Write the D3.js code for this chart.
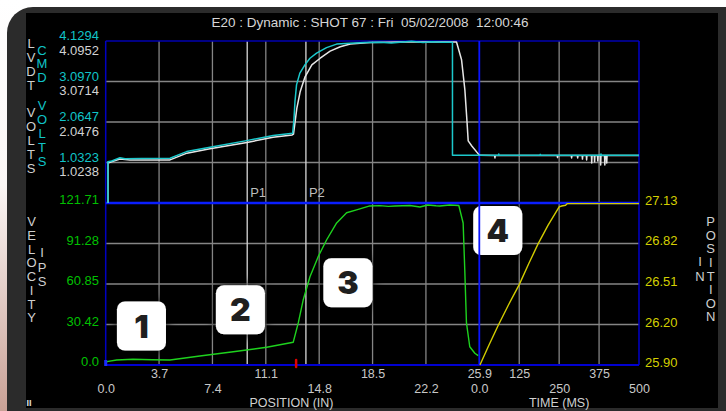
<!DOCTYPE html>
<html><head><meta charset="utf-8">
<script src="https://cdn.jsdelivr.net/npm/d3@7"></script>
<style>
body{margin:0;background:#fff;overflow:hidden}
svg{display:block;font-family:"Liberation Sans",Arial,sans-serif}
</style>
</head><body>
<svg id="c" width="726" height="411"></svg>
<script>
// ---------------- DATA ----------------
const titleText = "E20 : Dynamic : SHOT 67 : Fri  05/02/2008  12:00:46";
const posTicks  = [0.0, 3.7, 7.4, 11.1, 14.8, 18.5, 22.2, 25.9];
const timeTicks = [0, 125, 250, 375, 500];
const velTicks  = [0.0, 30.42, 60.85, 91.28, 121.71];
const posInTicks = [25.90, 26.20, 26.51, 26.82, 27.13];
const lvdtTicks = [1.0238, 2.0476, 3.0714, 4.0952];
const cmdTicks  = [1.0323, 2.0647, 3.0970, 4.1294];
const leftTitleA = "LVDT VOLTS";
const leftTitleB = "CMD VOLTS";
const velTitleA = "VELOCITY";
const velTitleB = "IPS";
const rightTitleA = "POSITION";
const rightTitleB = "IN";
const xTitlePos = "POSITION (IN)";
const xTitleTime = "TIME (MS)";

// CMD volts vs position (in)
const cmdPos = [[0.15,0],[0.15,1.05],[0.42,1.07],[0.99,1.155],[1.34,1.13],[2.5,1.135],[4.46,1.14],[5.61,1.31],[7.23,1.42],
  [9.77,1.59],[11.61,1.72],[12.96,1.78],[13.05,2.12],[13.12,2.58],[13.23,3.01],[13.46,3.31],[13.81,3.52],[14.16,3.69],
  [14.62,3.82],[15.31,3.96],[16.01,4.05],[16.93,4.07],[18.0,4.09],[19.0,4.10],[19.8,4.08],[20.4,4.10],[21.2,4.12],
  [22.0,4.09],[22.6,4.11],[23.3,4.10],[24.04,4.10],[24.04,1.216],[25.9,1.216]];
// CMD volts vs time (ms)
const cmdTime = [[0,1.216],[60,1.22],[61,1.25],[62,1.22],[190,1.216],[191,1.24],[192,1.216],[380,1.216],[381,1.25],[382,1.216],[500,1.216]];
// LVDT volts vs position (in)
const lvdtPos = [[0.16,0],[0.16,1.01],[0.44,1.05],[0.99,1.11],[1.68,1.09],[4.46,1.09],[5.63,1.26],[7.23,1.37],[9.79,1.53],
  [11.6,1.66],[12.93,1.72],[13.02,1.74],[13.25,2.39],[13.48,2.81],[13.82,3.19],[14.29,3.49],[14.87,3.66],[15.56,3.84],
  [16.26,3.95],[16.95,4.02],[18.34,4.06],[20.42,4.07],[22.5,4.07],[24.32,4.07],[24.67,3.62],[24.9,2.86],[25.04,2.10],
  [25.13,1.57],[25.38,1.44],[25.9,1.21]];
// LVDT volts vs time (ms)
const lvdtTime = [[0,1.21],[48,1.20],[49,1.14],[50,1.20],[244,1.20],[245,1.15],[246,1.20],[288,1.20],[289,1.14],[290,1.20],
  [307,1.20],[308,1.14],[309,1.20],[322,1.20],[323,1.11],[324,1.20],[335,1.20],[336,1.09],[337,1.20],[351,1.20],[352,1.01],
  [353,1.20],[360,1.20],[361,1.04],[362,1.20],[370,1.20],[371,1.06],[372,1.20],[379,1.20],[380,0.96],[381,1.20],
  [392,1.20],[393,0.96],[394,1.20],[398,1.20],[399,1.01],[400,1.20],[500,1.20]];
// Velocity (ips) vs position (in)
const velocityPos = [[0,0],[0.07,2.5],[0.76,3.8],[1.89,4.3],[3.2,3.9],[4.46,3.8],[6.53,6.8],[8.84,10.0],[11.16,13.3],
  [13.0,17.1],[13.35,31.6],[13.69,48.8],[14.16,66.3],[14.73,81.4],[15.31,93.9],[16.01,106.7],[16.70,114.4],[17.39,116.5],
  [18.31,119.5],[19.01,119.7],[19.6,119.2],[20.05,119.5],[21.09,119.8],[21.78,118.7],[22.33,120.2],[22.9,119.6],
  [23.16,119.5],[23.85,120.2],[24.48,119.8],[24.78,106.7],[24.90,69.1],[25.01,31.6],[25.24,13.7],[25.59,8.8],[25.82,7.0]];
// Ram position (in) vs time (ms)
const positionTime = [[2,25.90],[30,26.05],[59,26.20],[90,26.35],[125,26.51],[155,26.67],[184,26.82],[215,26.96],
  [250,27.10],[258,27.107],[270,27.113],[275,27.125],[500,27.125]];
// Markers
const pLines = [{name:"P1", pos:9.81},{name:"P2", pos:13.88}];
const redMarkerPos = 13.2;
const annotations = [{label:"1", pos:2.48, vel:29.3},{label:"2", pos:9.34, vel:41.5},
  {label:"3", pos:16.79, vel:61.8},{label:"4", pos:27.18, vel:101.0}];

// ---------------- SCALES ----------------
const svg = d3.select("#c");
const xPos  = d3.scaleLinear().domain([0,25.9]).range([105.7,479.3]);
const xTime = d3.scaleLinear().domain([0,500]).range([479.3,639]);
const yLvdt = d3.scaleLinear().domain([0,4.0952]).range([203,41]);
const yCmd  = d3.scaleLinear().domain([0,4.1294]).range([203,41]);
const yVel  = d3.scaleLinear().domain([0,121.71]).range([365,203]);
const yPosIn = d3.scaleLinear().domain([25.90,27.13]).range([365,203]);
const L = xPos.range()[0], S = xPos.range()[1], R = xTime.range()[1];
const TOP = yLvdt.range()[1], MID = yLvdt.range()[0], BOT = yVel.range()[0];

// ---------------- BACKGROUND / FRAME ----------------
const defs = svg.append("defs");
const bg = defs.append("linearGradient").attr("id","bg").attr("x1",0).attr("y1",0).attr("x2",0).attr("y2",1);
bg.append("stop").attr("offset","0%").attr("stop-color","#ffffff");
bg.append("stop").attr("offset","45%").attr("stop-color","#fbf7f6");
bg.append("stop").attr("offset","100%").attr("stop-color","#c9a196");
const sh = defs.append("filter").attr("id","sh").attr("x","-60%").attr("y","-60%").attr("width","220%").attr("height","220%");
sh.append("feDropShadow").attr("dx",0).attr("dy",0).attr("stdDeviation",6).attr("flood-color","#000").attr("flood-opacity",1);

svg.append("rect").attr("width",726).attr("height",411).attr("fill","url(#bg)");
svg.append("rect").attr("x",7).attr("y",7).attr("width",780).attr("height",430).attr("rx",26).attr("fill","#2b2b2b");
svg.append("rect").attr("x",26).attr("y",13).attr("width",692).attr("height",395).attr("fill","#000");

// ---------------- GRID ----------------
const grid = svg.append("g").attr("stroke","#858585").attr("stroke-width",1.3);
grid.selectAll(".vp").data(posTicks.slice(1,-1)).join("line")
  .attr("x1",d=>xPos(d)).attr("x2",d=>xPos(d)).attr("y1",TOP).attr("y2",BOT);
grid.selectAll(".vt").data(timeTicks.slice(1,-1)).join("line")
  .attr("x1",d=>xTime(d)).attr("x2",d=>xTime(d)).attr("y1",TOP).attr("y2",BOT);
grid.selectAll(".hl").data(lvdtTicks.slice(0,-1)).join("line")
  .attr("x1",L).attr("x2",R).attr("y1",d=>yLvdt(d)).attr("y2",d=>yLvdt(d));
grid.selectAll(".hv").data(velTicks.slice(1,-1)).join("line")
  .attr("x1",L).attr("x2",R).attr("y1",d=>yVel(d)).attr("y2",d=>yVel(d));

// P lines
const pl = svg.append("g");
pl.selectAll("line").data(pLines).join("line")
  .attr("x1",d=>xPos(d.pos)).attr("x2",d=>xPos(d.pos)).attr("y1",TOP).attr("y2",BOT)
  .attr("stroke","#d8d8d8").attr("stroke-width",1.3);
pl.selectAll("text").data(pLines).join("text")
  .attr("x",d=>xPos(d.pos)+3).attr("y",197).attr("fill","#bdbdbd").attr("font-size",13).text(d=>d.name);

// ---------------- ANNOTATION BOXES ----------------
const ann = svg.append("g");
ann.selectAll("rect").data(annotations).join("rect")
  .attr("x",d=>xPos(d.pos)-24.5).attr("y",d=>yVel(d.vel)-24.5).attr("width",49).attr("height",49)
  .attr("rx",8).attr("fill","#fff").attr("filter","url(#sh)");
ann.selectAll("text").data(annotations).join("text")
  .attr("x",d=>xPos(d.pos)).attr("y",d=>yVel(d.vel)+11.5).attr("text-anchor","middle")
  .attr("font-family","Inter, Lato, Roboto, sans-serif").attr("font-weight",900).attr("font-size",32)
  .attr("fill","#1f1f1f").text(d=>d.label);

// ---------------- BORDERS ----------------
const bd = svg.append("g").attr("fill","none");
bd.append("line").attr("x1",L).attr("x2",R).attr("y1",TOP).attr("y2",TOP).attr("stroke","#0000b0").attr("stroke-width",1.3);
bd.append("line").attr("x1",L).attr("x2",L).attr("y1",TOP).attr("y2",BOT).attr("stroke","#0000c0").attr("stroke-width",1.5);
bd.append("line").attr("x1",R).attr("x2",R).attr("y1",TOP).attr("y2",BOT).attr("stroke","#0000c8").attr("stroke-width",1.5);
bd.append("line").attr("x1",S).attr("x2",S).attr("y1",TOP).attr("y2",BOT).attr("stroke","#0a14ff").attr("stroke-width",1.8);
bd.append("line").attr("x1",L).attr("x2",R).attr("y1",MID).attr("y2",MID).attr("stroke","#0a1eff").attr("stroke-width",2.4);
bd.append("line").attr("x1",L).attr("x2",R).attr("y1",BOT).attr("y2",BOT).attr("stroke","#0000d0").attr("stroke-width",1.8);

// ---------------- CURVES ----------------
const cv = svg.append("g").attr("fill","none").attr("stroke-linejoin","round");
const lineP = (ys)=>d3.line().x(d=>xPos(d[0])).y(d=>ys(d[1]));
const lineT = (ys)=>d3.line().x(d=>xTime(d[0])).y(d=>ys(d[1]));
cv.append("path").attr("d",lineP(yLvdt)(lvdtPos)).attr("stroke","#e6e6e6").attr("stroke-width",1.5);
cv.append("path").attr("d",lineT(yLvdt)(lvdtTime)).attr("stroke","#e6e6e6").attr("stroke-width",1.5);
cv.append("path").attr("d",lineP(yCmd)(cmdPos)).attr("stroke","#1cc8cc").attr("stroke-width",1.5);
cv.append("path").attr("d",lineT(yCmd)(cmdTime)).attr("stroke","#1cc8cc").attr("stroke-width",1.5);
cv.append("path").attr("d",lineP(yVel)(velocityPos)).attr("stroke","#1ed21e").attr("stroke-width",1.4);
cv.append("path").attr("d",lineT(yPosIn)(positionTime)).attr("stroke","#d2cc00").attr("stroke-width",1.4);

// markers on bottom axis
svg.append("line").attr("x1",xPos(redMarkerPos)).attr("x2",xPos(redMarkerPos)).attr("y1",BOT-5).attr("y2",BOT+2)
  .attr("stroke","#e00000").attr("stroke-width",2.5).attr("stroke-linecap","round");
svg.append("line").attr("x1",xPos(0)).attr("x2",xPos(0)).attr("y1",BOT-5).attr("y2",BOT+1)
  .attr("stroke","#1a2cff").attr("stroke-width",3);

// ---------------- AXES ----------------
function styleAxis(g, color, fs){
  g.select(".domain").remove();
  g.selectAll(".tick line").remove();
  g.attr("font-family",null).attr("font-size",null);
  g.selectAll("text").attr("fill",color).attr("font-size",fs||13);
}
// velocity (left, bottom panel)
const gVel = svg.append("g").attr("transform",`translate(${L},0)`)
  .call(d3.axisLeft(yVel).tickValues(velTicks).tickSize(0).tickPadding(6.7).tickFormat(d=>d===0?"0.0":d3.format(".2f")(d)));
styleAxis(gVel,"#00c000"); gVel.selectAll("text").attr("dy","0").attr("y",0.5);
// position (right, bottom panel)
const gPin = svg.append("g").attr("transform",`translate(${R},0)`)
  .call(d3.axisRight(yPosIn).tickValues(posInTicks).tickSize(0).tickPadding(6).tickFormat(d3.format(".2f")));
styleAxis(gPin,"#d4d000"); gPin.selectAll("text").attr("dy","0").attr("y",1);
// LVDT (white, below gridline)
const gL = svg.append("g").attr("transform",`translate(${L},0)`)
  .call(d3.axisLeft(yLvdt).tickValues(lvdtTicks).tickSize(0).tickPadding(6.7).tickFormat(d3.format(".4f")));
styleAxis(gL,"#d2d2d2"); gL.selectAll("text").attr("dy","0").attr("y",13.3);
// CMD (cyan, above gridline)
const gC = svg.append("g").attr("transform",`translate(${L},0)`)
  .call(d3.axisLeft(yCmd).tickValues(cmdTicks).tickSize(0).tickPadding(6.7).tickFormat(d3.format(".4f")));
styleAxis(gC,"#10c4c8"); gC.selectAll("text").attr("dy","0").attr("y",-1.5);
// bottom position axis
const gX = svg.append("g").attr("transform",`translate(0,${BOT})`)
  .call(d3.axisBottom(xPos).tickValues(posTicks).tickSize(0).tickFormat(d3.format(".1f")));
styleAxis(gX,"#c8c8c8",12.5); gX.selectAll("text").attr("dy","0").attr("y",(d,i)=>i%2===0?27.5:13.3);
// bottom time axis
const gT = svg.append("g").attr("transform",`translate(0,${BOT})`)
  .call(d3.axisBottom(xTime).tickValues(timeTicks).tickSize(0).tickFormat(d=>d===0?"0.0":String(d)));
styleAxis(gT,"#c8c8c8",12.5); gT.selectAll("text").attr("dy","0").attr("y",(d,i)=>i%2===0?27.5:13.3);

// axis titles
svg.append("text").attr("x",291.5).attr("y",407).attr("text-anchor","middle")
  .attr("fill","#d0d0d0").attr("font-size",12.5).text(xTitlePos);
svg.append("text").attr("x",xTime(250)).attr("y",407).attr("text-anchor","middle")
  .attr("fill","#d0d0d0").attr("font-size",12.5).text(xTitleTime);

function vertical(str, x, y0, step, color){
  svg.append("g").selectAll("text").data(str.split("")).join("text")
    .attr("x",x).attr("y",(d,i)=>y0+i*step).attr("text-anchor","middle")
    .attr("fill",color).attr("font-size",13).text(d=>d);
}
vertical(leftTitleA, 31, 47.8, 13.9, "#cfcfcf");
vertical(leftTitleB, 42, 54.5, 13.9, "#10c4c8");
vertical(velTitleA, 31.5, 226.2, 13.75, "#cfcfcf");
vertical(velTitleB, 42, 257.2, 14.3, "#cfcfcf");
vertical(rightTitleA, 710.7, 226.2, 13.6, "#cfcfcf");
vertical(rightTitleB, 700, 266.2, 14.5, "#cfcfcf");

// title
svg.append("text").attr("x",370).attr("y",27.3).attr("text-anchor","middle").attr("fill","#d6d6d6")
  .attr("font-size",13.5).style("white-space","pre").text(titleText);
// small pause glyph
svg.append("text").attr("x",26.5).attr("y",405.5).attr("fill","#e0e0e0").attr("font-size",9).attr("font-weight","bold").text("II");
</script>
</body></html>
